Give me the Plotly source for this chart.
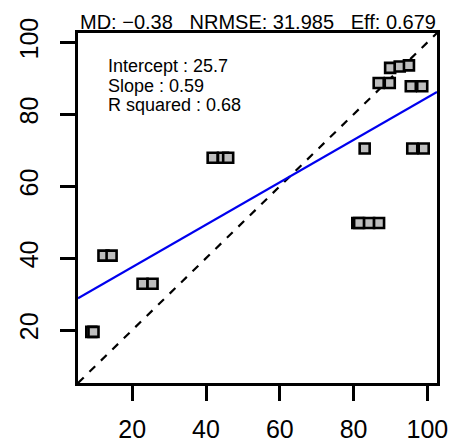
import plotly.graph_objects as go

# Observed vs simulated values
obs = [8.9, 9.5, 12.2, 14.4, 22.8, 25.5, 41.8, 44.6, 46.0,
       81.0, 81.5, 84.2, 86.9, 83.0, 95.9, 99.0,
       86.8, 89.8, 89.9, 92.5, 95.0, 95.5, 98.6]
sim = [19.5, 19.5, 40.7, 40.7, 32.9, 32.9, 67.9, 67.9, 67.9,
       49.8, 49.8, 49.8, 49.8, 70.5, 70.5, 70.5,
       88.7, 88.7, 92.9, 93.3, 93.6, 87.8, 87.8]

# Fit statistics shown on the chart
intercept = 25.7
slope = 0.59
r_squared = 0.68
md = "\u22120.38"
nrmse = "31.985"
eff = "0.679"

tick_vals = [20, 40, 60, 80, 100]

lo = min(min(obs), min(sim))
hi = max(max(obs), max(sim))
pad = 0.04 * (hi - lo)
rng = [lo - pad, hi + pad]

font = "Liberation Sans, Arial, sans-serif"

fig = go.Figure()

# 1:1 reference line
fig.add_trace(go.Scatter(
    x=rng, y=rng, mode="lines",
    line=dict(color="black", width=2.2, dash="8px,8px"),
    hoverinfo="skip", showlegend=False))

# Fitted regression line
fig.add_trace(go.Scatter(
    x=rng, y=[intercept + slope * v for v in rng], mode="lines",
    line=dict(color="#0000ee", width=2.2),
    hoverinfo="skip", showlegend=False))

# Data points
fig.add_trace(go.Scatter(
    x=obs, y=sim, mode="markers",
    marker=dict(symbol="square", size=10, color="#bebebe",
                line=dict(color="black", width=2.6)),
    showlegend=False))

axis_common = dict(
    range=rng, tickvals=tick_vals, showgrid=False, zeroline=False,
    showline=True, mirror=True, linewidth=3, linecolor="black",
    ticks="outside", ticklen=15, tickwidth=3, tickcolor="black",
    tickfont=dict(family=font, size=25, color="black"),
    automargin=False,
)

fig.update_layout(
    width=454, height=444,
    margin=dict(l=78, r=17, t=33, b=61),
    paper_bgcolor="white", plot_bgcolor="white",
    xaxis=dict(**axis_common, ticklabelstandoff=7),
    yaxis=dict(**axis_common, tickangle=-90, ticklabelstandoff=12),
)

fig.add_annotation(
    xref="paper", yref="paper", x=0.5, y=1.0 + 11 / 350,
    xanchor="center", yanchor="middle", showarrow=False,
    text=f"MD: {md}   NRMSE: {nrmse}   Eff: {eff}",
    font=dict(family=font, size=20, color="black"))

stats = [f"Intercept : {intercept}", f"Slope : {slope}", f"R squared : {r_squared}"]
for i, s in enumerate(stats):
    fig.add_annotation(
        xref="paper", yref="paper", x=(106.7 - 78) / 359,
        y=1.0 - (33.0 + 19.5 * i) / 350,
        xanchor="left", yanchor="middle", showarrow=False,
        borderpad=0,
        text=s, font=dict(family=font, size=18, color="black"))

fig.write_html("out.html")
